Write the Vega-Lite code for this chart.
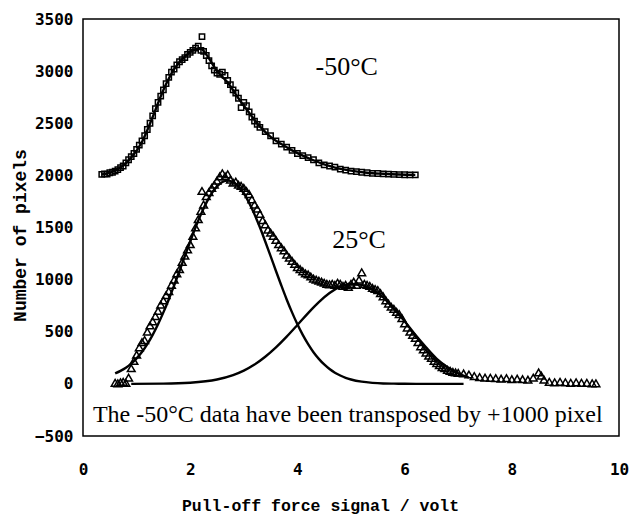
{
  "$schema": "https://vega.github.io/schema/vega-lite/v6.json",
  "autosize": {"type": "none"},
  "width": 536,
  "height": 417,
  "padding": {"left": 83, "top": 19, "right": 12, "bottom": 81},
  "background": "white",
  "config": {
    "view": {"stroke": "black", "strokeWidth": 1.5},
    "axis": {"domain": false, "grid": false, "ticks": false, "labelFlush": false,
      "labelFont": "DejaVu Sans Mono", "labelFontWeight": "bold", "labelFontSize": 16, "labelColor": "black",
      "titleFont": "Liberation Mono", "titleFontWeight": "bold", "titleFontSize": 16.5, "titleColor": "black"}
  },
  "datasets": {
    "m50": [
      {"x":0.35,"y":2010},{"x":0.40,"y":2015},{"x":0.45,"y":2012},{"x":0.50,"y":2025},{"x":0.55,"y":2030},
      {"x":0.60,"y":2040},{"x":0.65,"y":2055},{"x":0.70,"y":2075},{"x":0.75,"y":2090},{"x":0.80,"y":2120},
      {"x":0.85,"y":2150},{"x":0.90,"y":2180},{"x":0.95,"y":2210},{"x":1.00,"y":2250},{"x":1.05,"y":2290},
      {"x":1.10,"y":2330},{"x":1.15,"y":2380},{"x":1.20,"y":2440},{"x":1.25,"y":2500},{"x":1.30,"y":2570},
      {"x":1.35,"y":2640},{"x":1.40,"y":2700},{"x":1.45,"y":2760},{"x":1.50,"y":2820},{"x":1.55,"y":2880},
      {"x":1.60,"y":2940},{"x":1.65,"y":2990},{"x":1.70,"y":3020},{"x":1.75,"y":3060},{"x":1.80,"y":3090},
      {"x":1.85,"y":3110},{"x":1.90,"y":3130},{"x":1.95,"y":3160},{"x":2.00,"y":3180},{"x":2.05,"y":3200},
      {"x":2.10,"y":3220},{"x":2.15,"y":3240},{"x":2.20,"y":3200},{"x":2.22,"y":3330},{"x":2.25,"y":3190},
      {"x":2.30,"y":3150},{"x":2.35,"y":3100},{"x":2.40,"y":3050},{"x":2.45,"y":3010},{"x":2.50,"y":2980},
      {"x":2.55,"y":2970},{"x":2.60,"y":2990},{"x":2.65,"y":2960},{"x":2.70,"y":2910},{"x":2.75,"y":2870},
      {"x":2.80,"y":2820},{"x":2.85,"y":2790},{"x":2.90,"y":2740},{"x":2.95,"y":2650},{"x":3.00,"y":2700},
      {"x":3.05,"y":2670},{"x":3.10,"y":2610},{"x":3.15,"y":2560},{"x":3.20,"y":2520},{"x":3.25,"y":2490},
      {"x":3.30,"y":2460},{"x":3.40,"y":2420},{"x":3.50,"y":2380},{"x":3.60,"y":2330},{"x":3.70,"y":2300},
      {"x":3.80,"y":2270},{"x":3.90,"y":2240},{"x":4.00,"y":2210},{"x":4.10,"y":2190},{"x":4.20,"y":2170},
      {"x":4.30,"y":2150},{"x":4.40,"y":2120},{"x":4.50,"y":2100},{"x":4.60,"y":2090},{"x":4.70,"y":2080},
      {"x":4.80,"y":2060},{"x":4.90,"y":2050},{"x":5.00,"y":2040},{"x":5.10,"y":2035},{"x":5.20,"y":2030},
      {"x":5.30,"y":2025},{"x":5.40,"y":2020},{"x":5.50,"y":2018},{"x":5.60,"y":2015},{"x":5.70,"y":2012},
      {"x":5.80,"y":2010},{"x":5.90,"y":2008},{"x":6.00,"y":2006},{"x":6.10,"y":2005},{"x":6.20,"y":2005}
    ],
    "t25": [
      {"x":0.60,"y":10},{"x":0.65,"y":5},{"x":0.70,"y":15},{"x":0.75,"y":20},{"x":0.80,"y":10},
      {"x":0.85,"y":60},{"x":0.90,"y":150},{"x":0.95,"y":220},{"x":1.00,"y":280},{"x":1.05,"y":350},
      {"x":1.10,"y":400},{"x":1.15,"y":420},{"x":1.20,"y":500},{"x":1.25,"y":560},{"x":1.30,"y":600},
      {"x":1.35,"y":650},{"x":1.40,"y":700},{"x":1.45,"y":760},{"x":1.50,"y":800},{"x":1.55,"y":850},
      {"x":1.60,"y":890},{"x":1.65,"y":950},{"x":1.70,"y":1000},{"x":1.75,"y":1060},{"x":1.80,"y":1100},
      {"x":1.85,"y":1170},{"x":1.90,"y":1230},{"x":1.95,"y":1290},{"x":2.00,"y":1340},{"x":2.05,"y":1420},
      {"x":2.10,"y":1500},{"x":2.15,"y":1580},{"x":2.20,"y":1660},{"x":2.22,"y":1850},{"x":2.25,"y":1720},
      {"x":2.30,"y":1800},{"x":2.35,"y":1840},{"x":2.40,"y":1880},{"x":2.45,"y":1910},{"x":2.50,"y":1950},
      {"x":2.55,"y":1990},{"x":2.60,"y":2020},{"x":2.65,"y":1990},{"x":2.70,"y":2010},{"x":2.75,"y":1960},
      {"x":2.80,"y":1930},{"x":2.85,"y":1940},{"x":2.90,"y":1910},{"x":2.95,"y":1900},{"x":3.00,"y":1880},
      {"x":3.05,"y":1850},{"x":3.10,"y":1820},{"x":3.15,"y":1770},{"x":3.20,"y":1720},{"x":3.25,"y":1680},
      {"x":3.30,"y":1630},{"x":3.35,"y":1570},{"x":3.40,"y":1530},{"x":3.45,"y":1480},{"x":3.50,"y":1450},
      {"x":3.55,"y":1420},{"x":3.60,"y":1380},{"x":3.65,"y":1340},{"x":3.70,"y":1310},{"x":3.75,"y":1280},
      {"x":3.80,"y":1240},{"x":3.85,"y":1210},{"x":3.90,"y":1180},{"x":3.95,"y":1150},{"x":4.00,"y":1120},
      {"x":4.05,"y":1100},{"x":4.10,"y":1080},{"x":4.15,"y":1060},{"x":4.20,"y":1050},{"x":4.25,"y":1030},
      {"x":4.30,"y":1010},{"x":4.35,"y":1000},{"x":4.40,"y":990},{"x":4.45,"y":980},{"x":4.50,"y":970},
      {"x":4.55,"y":960},{"x":4.60,"y":955},{"x":4.65,"y":960},{"x":4.70,"y":950},{"x":4.75,"y":970},
      {"x":4.80,"y":960},{"x":4.85,"y":940},{"x":4.90,"y":950},{"x":4.95,"y":930},{"x":5.00,"y":960},
      {"x":5.05,"y":980},{"x":5.10,"y":950},{"x":5.15,"y":1000},{"x":5.20,"y":1070},{"x":5.25,"y":960},
      {"x":5.30,"y":950},{"x":5.35,"y":940},{"x":5.40,"y":920},{"x":5.45,"y":910},{"x":5.50,"y":900},
      {"x":5.55,"y":870},{"x":5.60,"y":840},{"x":5.65,"y":800},{"x":5.70,"y":770},{"x":5.75,"y":740},
      {"x":5.80,"y":720},{"x":5.85,"y":690},{"x":5.90,"y":670},{"x":5.95,"y":630},{"x":6.00,"y":580},
      {"x":6.05,"y":540},{"x":6.10,"y":500},{"x":6.15,"y":470},{"x":6.20,"y":440},{"x":6.25,"y":400},
      {"x":6.30,"y":360},{"x":6.35,"y":330},{"x":6.40,"y":300},{"x":6.45,"y":270},{"x":6.50,"y":250},
      {"x":6.55,"y":220},{"x":6.60,"y":200},{"x":6.65,"y":180},{"x":6.70,"y":160},{"x":6.75,"y":150},
      {"x":6.80,"y":135},{"x":6.85,"y":125},{"x":6.90,"y":115},{"x":6.95,"y":110},{"x":7.00,"y":105},
      {"x":7.10,"y":100},{"x":7.20,"y":90},{"x":7.30,"y":75},{"x":7.40,"y":65},{"x":7.50,"y":60},
      {"x":7.60,"y":58},{"x":7.70,"y":55},{"x":7.80,"y":50},{"x":7.90,"y":55},{"x":8.00,"y":45},
      {"x":8.10,"y":50},{"x":8.20,"y":45},{"x":8.30,"y":40},{"x":8.40,"y":60},{"x":8.50,"y":110},
      {"x":8.55,"y":80},{"x":8.60,"y":40},{"x":8.70,"y":20},{"x":8.80,"y":15},{"x":8.90,"y":20},
      {"x":9.00,"y":15},{"x":9.10,"y":10},{"x":9.20,"y":15},{"x":9.30,"y":10},{"x":9.40,"y":10},
      {"x":9.50,"y":5},{"x":9.57,"y":5}
    ],
    "fits": [
      {"curve":"g1","x":0.6,"y":100},{"curve":"g1","x":0.7,"y":125},{"curve":"g1","x":0.8,"y":155},
      {"curve":"g1","x":0.9,"y":195},{"curve":"g1","x":1.0,"y":245},{"curve":"g1","x":1.1,"y":305},
      {"curve":"g1","x":1.2,"y":381},{"curve":"g1","x":1.3,"y":470},{"curve":"g1","x":1.4,"y":572},
      {"curve":"g1","x":1.5,"y":686},{"curve":"g1","x":1.6,"y":810},{"curve":"g1","x":1.7,"y":944},
      {"curve":"g1","x":1.8,"y":1083},{"curve":"g1","x":1.9,"y":1226},{"curve":"g1","x":2.0,"y":1366},
      {"curve":"g1","x":2.1,"y":1502},{"curve":"g1","x":2.2,"y":1626},{"curve":"g1","x":2.3,"y":1736},
      {"curve":"g1","x":2.4,"y":1827},{"curve":"g1","x":2.5,"y":1894},{"curve":"g1","x":2.6,"y":1936},
      {"curve":"g1","x":2.7,"y":1950},{"curve":"g1","x":2.8,"y":1936},{"curve":"g1","x":2.9,"y":1894},
      {"curve":"g1","x":3.0,"y":1827},{"curve":"g1","x":3.1,"y":1736},{"curve":"g1","x":3.2,"y":1626},
      {"curve":"g1","x":3.3,"y":1502},{"curve":"g1","x":3.4,"y":1366},{"curve":"g1","x":3.5,"y":1226},
      {"curve":"g1","x":3.6,"y":1083},{"curve":"g1","x":3.7,"y":944},{"curve":"g1","x":3.8,"y":810},
      {"curve":"g1","x":3.9,"y":686},{"curve":"g1","x":4.0,"y":572},{"curve":"g1","x":4.1,"y":470},
      {"curve":"g1","x":4.2,"y":381},{"curve":"g1","x":4.3,"y":304},{"curve":"g1","x":4.4,"y":240},
      {"curve":"g1","x":4.5,"y":186},{"curve":"g1","x":4.6,"y":142},{"curve":"g1","x":4.7,"y":107},
      {"curve":"g1","x":4.8,"y":80},{"curve":"g1","x":4.9,"y":58},{"curve":"g1","x":5.0,"y":42},
      {"curve":"g1","x":5.2,"y":21},{"curve":"g1","x":5.4,"y":10},{"curve":"g1","x":5.6,"y":4},
      {"curve":"g1","x":5.8,"y":2},{"curve":"g1","x":6.0,"y":1},{"curve":"g1","x":6.5,"y":0},
      {"curve":"g1","x":7.1,"y":0},
      {"curve":"g2","x":0.9,"y":0},{"curve":"g2","x":1.5,"y":2},{"curve":"g2","x":2.0,"y":11},
      {"curve":"g2","x":2.5,"y":42},{"curve":"g2","x":2.8,"y":84},{"curve":"g2","x":3.0,"y":127},
      {"curve":"g2","x":3.2,"y":185},{"curve":"g2","x":3.4,"y":260},{"curve":"g2","x":3.6,"y":350},
      {"curve":"g2","x":3.8,"y":453},{"curve":"g2","x":4.0,"y":565},{"curve":"g2","x":4.2,"y":679},
      {"curve":"g2","x":4.4,"y":784},{"curve":"g2","x":4.6,"y":871},{"curve":"g2","x":4.8,"y":932},
      {"curve":"g2","x":5.0,"y":958},{"curve":"g2","x":5.2,"y":950},{"curve":"g2","x":5.4,"y":905},
      {"curve":"g2","x":5.6,"y":830},{"curve":"g2","x":5.8,"y":720},{"curve":"g2","x":6.0,"y":600},
      {"curve":"g2","x":6.2,"y":470},{"curve":"g2","x":6.4,"y":350},{"curve":"g2","x":6.6,"y":240},
      {"curve":"g2","x":6.8,"y":160},{"curve":"g2","x":7.0,"y":100},{"curve":"g2","x":7.2,"y":60},
      {"curve":"m50","x":0.35,"y":2010},{"curve":"m50","x":0.5,"y":2025},{"curve":"m50","x":0.7,"y":2075},
      {"curve":"m50","x":0.9,"y":2170},{"curve":"m50","x":1.1,"y":2320},{"curve":"m50","x":1.3,"y":2560},
      {"curve":"m50","x":1.5,"y":2820},{"curve":"m50","x":1.7,"y":3020},{"curve":"m50","x":1.9,"y":3140},
      {"curve":"m50","x":2.1,"y":3210},{"curve":"m50","x":2.2,"y":3215},{"curve":"m50","x":2.3,"y":3160},
      {"curve":"m50","x":2.5,"y":3000},{"curve":"m50","x":2.7,"y":2890},{"curve":"m50","x":2.9,"y":2740},
      {"curve":"m50","x":3.1,"y":2600},{"curve":"m50","x":3.3,"y":2470},{"curve":"m50","x":3.5,"y":2370},
      {"curve":"m50","x":3.7,"y":2300},{"curve":"m50","x":3.9,"y":2240},{"curve":"m50","x":4.1,"y":2190},
      {"curve":"m50","x":4.3,"y":2145},{"curve":"m50","x":4.5,"y":2105},{"curve":"m50","x":4.7,"y":2075},
      {"curve":"m50","x":5.0,"y":2045},{"curve":"m50","x":5.3,"y":2025},{"curve":"m50","x":5.6,"y":2015},
      {"curve":"m50","x":5.9,"y":2008},{"curve":"m50","x":6.2,"y":2005}
    ],
    "labels": [
      {"label":"-50°C","x":4.92,"y":2963},
      {"label":"25°C","x":5.15,"y":1304}
    ],
    "note": [
      {"label":"The -50°C data have been transposed by +1000 pixel","x":4.94,"y":-364}
    ]
  },
  "encoding": {
    "x": {"field": "x", "type": "quantitative",
      "scale": {"domain": [0, 10], "nice": false, "zero": false},
      "axis": {"values": [0, 2, 4, 6, 8, 10], "format": "d", "labelPadding": 25, "title": "Pull-off force signal / volt", "titleX": 237, "titleY": 69, "titleAlign": "center", "titleAnchor": "start", "titleBaseline": "middle"}},
    "y": {"field": "y", "type": "quantitative",
      "scale": {"domain": [-500, 3500], "nice": false, "zero": false},
      "axis": {"values": [-500, 0, 500, 1000, 1500, 2000, 2500, 3000, 3500], "format": "d", "labelPadding": 10, "title": "Number of pixels", "titleX": -63, "titleY": 216, "titleAngle": -90, "titleAlign": "center", "titleBaseline": "middle", "titleFontSize": 18}}
  },
  "layer": [
    {"data": {"name": "fits"}, "mark": {"type": "line", "color": "black", "strokeWidth": 2.4, "interpolate": "monotone"},
      "encoding": {"detail": {"field": "curve"}}},
    {"data": {"name": "m50"}, "mark": {"type": "point", "shape": "square", "filled": false, "color": "black", "strokeWidth": 1.5, "size": 28, "opacity": 1}},
    {"data": {"name": "t25"}, "mark": {"type": "point", "shape": "triangle-up", "filled": false, "color": "black", "strokeWidth": 1.5, "size": 60, "opacity": 1}},
    {"data": {"name": "labels"}, "mark": {"type": "text", "font": "Liberation Serif", "fontSize": 26, "align": "center", "baseline": "alphabetic", "color": "black"},
      "encoding": {"text": {"field": "label"}}},
    {"data": {"name": "note"}, "mark": {"type": "text", "font": "Liberation Serif", "fontSize": 24, "align": "center", "baseline": "alphabetic", "color": "black"},
      "encoding": {"text": {"field": "label"}}}
  ]
}
